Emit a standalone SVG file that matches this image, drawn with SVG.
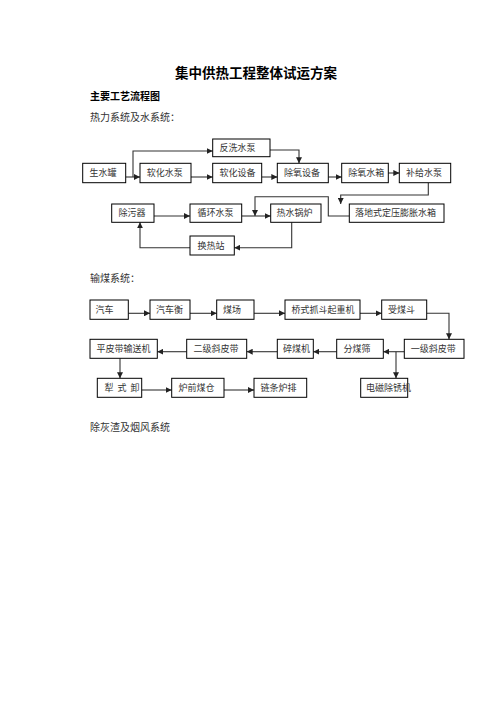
<svg xmlns="http://www.w3.org/2000/svg" width="496" height="702" viewBox="0 0 496 702">
<defs>
<style>
.bx{fill:#fff;stroke:#000;stroke-width:1}
.t{font-family:"Noto Sans CJK SC","Liberation Serif",sans-serif;font-size:9px;fill:#333}
.h{font-family:"Noto Sans CJK SC","Liberation Serif",sans-serif;font-size:10px;fill:#333}
.c{fill:none;stroke:#333;stroke-width:1.1;marker-end:url(#ah)}
</style>
<marker id="ah" markerUnits="userSpaceOnUse" markerWidth="6" markerHeight="6" refX="6" refY="3" orient="auto">
<path d="M0,0 L6,3 L0,6 z" fill="#222"/>
</marker>
</defs>
<rect width="496" height="702" fill="#fff"/>
<text x="256" y="78" text-anchor="middle" font-family="Noto Sans CJK SC, sans-serif" font-size="13.5" font-weight="bold" fill="#000">集中供热工程整体试运方案</text>
<text x="90" y="100" font-family="Noto Sans CJK SC, sans-serif" font-size="10" font-weight="bold" fill="#000">主要工艺流程图</text>
<text class="h" x="90" y="121">热力系统及水系统：</text>
<text class="h" x="90" y="282">输煤系统：</text>
<text class="h" x="90" y="431">除灰渣及烟风系统</text>

<g id="connectors">
<path class="c" d="M125.7,177 H140"/>
<path class="c" d="M133,177 V151 H212.7"/>
<path class="c" d="M191,177 H212.7"/>
<path class="c" d="M261.7,177 H277.3"/>
<path class="c" d="M270,150 H299 V163.3"/>
<path class="c" d="M328.3,177 H341.7"/>
<path class="c" d="M386,173 H399.3"/>
<path class="c" d="M428.3,182.7 V195 H340.7 V204"/>
<path class="c" d="M349.3,216 H328.3 V196.7 H255 V216"/>
<path class="c" d="M154,216 H190"/>
<path class="c" d="M241.7,216 H270.7"/>
<path class="c" d="M291.7,222.3 V247.7 H234.3"/>
<path class="c" d="M190,247.7 H140 V222.3"/>
<path class="c" d="M128.3,313.3 H150"/>
<path class="c" d="M190,313.3 H216.7"/>
<path class="c" d="M254,313.3 H285"/>
<path class="c" d="M360,313.3 H381.7"/>
<path class="c" d="M426.7,313.3 H449 V339.3"/>
<path class="c" d="M404.3,351.7 H383.3"/>
<path class="c" d="M336.7,351.7 H313.3"/>
<path class="c" d="M277.3,351.7 H246.7"/>
<path class="c" d="M186.7,351.7 H157.3"/>
<path class="c" d="M120,358.3 V378.3"/>
<path class="c" d="M396,351.7 V378.3"/>
<path class="c" d="M141.7,390 H171.7"/>
<path class="c" d="M224,390 H254"/>
</g>

<g id="n_fanxi"><rect class="bx" x="212.7" y="139" width="57.3" height="17.7"/><text class="t" x="219.5" y="151">反洗水泵</text></g>
<g id="n_shengshui"><rect class="bx" x="82.7" y="163.3" width="43" height="19.4"/><text class="t" x="89.5" y="176.3">生水罐</text></g>
<g id="n_ruanhuabeng"><rect class="bx" x="140" y="163.3" width="51" height="19.4"/><text class="t" x="146.7" y="176.3">软化水泵</text></g>
<g id="n_ruanhuashebei"><rect class="bx" x="212.7" y="163.3" width="49" height="19.4"/><text class="t" x="219.5" y="176.3">软化设备</text></g>
<g id="n_chuyangshebei"><rect class="bx" x="277.3" y="163.3" width="51" height="19.4"/><text class="t" x="284" y="176.3">除氧设备</text></g>
<g id="n_chuyangshuixiang"><rect class="bx" x="341.7" y="163.3" width="46.6" height="19.4"/><text class="t" x="348.3" y="176.3">除氧水箱</text></g>
<g id="n_bujibeng"><rect class="bx" x="399.3" y="163.3" width="51.4" height="19.4"/><text class="t" x="406" y="176.3">补给水泵</text></g>
<g id="n_chuwuqi"><rect class="bx" x="111.7" y="204" width="42.3" height="18.3"/><text class="t" x="118.5" y="216.3">除污器</text></g>
<g id="n_xunhuanbeng"><rect class="bx" x="190" y="204" width="51.7" height="18.3"/><text class="t" x="197.5" y="216.3">循环水泵</text></g>
<g id="n_reshuiguolu"><rect class="bx" x="270.7" y="204" width="50.3" height="18.3"/><text class="t" x="276.5" y="216.3">热水锅炉</text></g>
<g id="n_luodi"><rect class="bx" x="349.3" y="204" width="94.7" height="18.3"/><text class="t" x="355" y="216.3" font-size="8.8">落地式定压膨胀水箱</text></g>
<g id="n_huanrezhan"><rect class="bx" x="190" y="236" width="44.3" height="19"/><text class="t" x="197.5" y="248.5">换热站</text></g>

<g id="n_qiche"><rect class="bx" x="90" y="300" width="38.3" height="19.3"/><text class="t" x="95.5" y="312.5">汽车</text></g>
<g id="n_qicheheng"><rect class="bx" x="150" y="300" width="40" height="19.3"/><text class="t" x="156" y="312.5">汽车衡</text></g>
<g id="n_meichang"><rect class="bx" x="216.7" y="300" width="37.3" height="19.3"/><text class="t" x="223" y="312.5">煤场</text></g>
<g id="n_qiaoshi"><rect class="bx" x="285" y="300" width="75" height="19.3"/><text class="t" x="291.5" y="312.5">桥式抓斗起重机</text></g>
<g id="n_shoumeidou"><rect class="bx" x="381.7" y="300" width="45" height="19.3"/><text class="t" x="388" y="312.5">受煤斗</text></g>
<g id="n_yiji"><rect class="bx" x="404.3" y="339.3" width="59.7" height="19"/><text class="t" x="410.7" y="352">一级斜皮带</text></g>
<g id="n_fenmeishai"><rect class="bx" x="336.7" y="339.3" width="46.6" height="19"/><text class="t" x="343.5" y="352">分煤筛</text></g>
<g id="n_suimeiji"><rect class="bx" x="277.3" y="339.3" width="36" height="19"/><text class="t" x="283" y="352">碎煤机</text></g>
<g id="n_erji"><rect class="bx" x="186.7" y="339.3" width="60" height="19"/><text class="t" x="193.5" y="352">二级斜皮带</text></g>
<g id="n_pingpidai"><rect class="bx" x="90" y="339.3" width="67.3" height="19"/><text class="t" x="96.5" y="352">平皮带输送机</text></g>
<g id="n_lishixie"><rect class="bx" x="97.3" y="378.3" width="44.4" height="19"/><text class="t" x="104.5" y="391" letter-spacing="4">犁式卸</text></g>
<g id="n_luqian"><rect class="bx" x="171.7" y="378.3" width="52.3" height="19"/><text class="t" x="178.5" y="391">炉前煤仓</text></g>
<g id="n_liantiao"><rect class="bx" x="254" y="378.3" width="52.7" height="19"/><text class="t" x="260.5" y="391">链条炉排</text></g>
<g id="n_dianci"><rect class="bx" x="360.7" y="378.3" width="47" height="19"/><text class="t" x="366" y="390.8" font-size="7.6">电磁除锈机</text></g>
</svg>
